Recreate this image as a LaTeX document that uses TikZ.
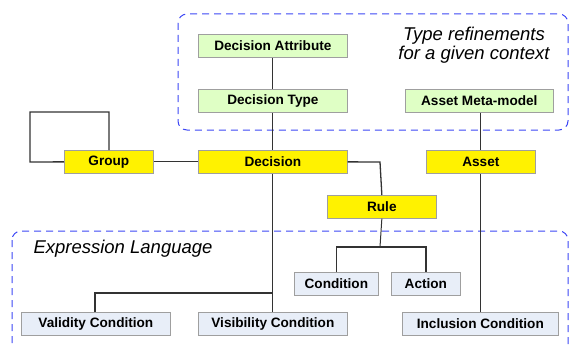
\documentclass[tikz,border=0pt]{standalone}
\usepackage{fontspec}
\setmainfont{Liberation Sans}
\begin{document}
\begin{tikzpicture}[x=1pt,y=-1pt,
  box/.style={draw=gray!75,line width=0.7pt,inner sep=0pt,anchor=north west,font=\fontsize{13.6}{15}\selectfont\bfseries},
  grn/.style={box,fill=green!14!white!90!yellow},
  ylw/.style={box,fill=yellow},
  blu/.style={box,fill={rgb,255:red,232;green,238;blue,248}},
  conn/.style={draw=black!80,line width=1pt},
  region/.style={draw={rgb,255:red,60;green,70;blue,245},line width=1pt,dash pattern=on 7pt off 5pt,rounded corners=9pt},
  lbl/.style={font=\fontsize{18.5}{21}\selectfont\itshape,align=center}]
\useasboundingbox (0,0) rectangle (570,345);
\begin{scope}
\clip (0,0) rectangle (570,345);
\draw[region] (178,14) rectangle (568,130);
\draw[region] (12,231) rectangle (568,360);
\end{scope}
\node[lbl] (tr) at (474,45) {Type refinements\\[-2pt]for a given context};
\node[lbl,anchor=west] (el) at (30,249) {Expression Language};

\node[grn,minimum width=149pt,minimum height=23pt] (da) at (198,34) {Decision Attribute};
\node[grn,minimum width=149pt,minimum height=23pt] (dt) at (198,89) {Decision Type};
\node[grn,minimum width=148pt,minimum height=23pt] (am) at (405,89) {Asset Meta-model};
\node[ylw,minimum width=89pt,minimum height=23pt] (gr) at (64,150) {Group};
\node[ylw,minimum width=149pt,minimum height=23pt] (de) at (198,150) {Decision};
\node[ylw,minimum width=109pt,minimum height=23pt] (as) at (426,150) {Asset};
\node[ylw,minimum width=109pt,minimum height=23pt] (ru) at (327,195) {Rule};
\node[blu,minimum width=84pt,minimum height=23pt] (co) at (294,272) {Condition};
\node[blu,minimum width=69pt,minimum height=23pt] (ac) at (391,272) {Action};
\node[blu,minimum width=149pt,minimum height=23pt] (va) at (21,312) {Validity Condition};
\node[blu,minimum width=149pt,minimum height=23pt] (vi) at (198,312) {Visibility Condition};
\node[blu,minimum width=156pt,minimum height=23pt] (in) at (402,312) {Inclusion Condition};

\coordinate (gl1) at (30,162);
\coordinate (gl2) at (30,112);
\coordinate (gl3) at (109,112);
\coordinate (dr) at (380,162);
\coordinate (rb) at (380,247);
\coordinate (vj) at (272,293);

\draw[conn,line width=1.3pt] (gr.west) -- (gl1) -- (gl2) -- (gl3) -- (gl3 |- gr.north);
\draw[conn] (gr.east) -- (de.west);
\draw[conn] (da.south) -- (dt.north);
\draw[conn] (dt.south) -- (de.north);
\draw[conn] (de.south) -- (vi.north);
\draw[conn,line width=1.3pt] (de.east) -- (dr) -- (ru.north);
\draw[conn] (ru.south) -- (rb);
\draw[conn,line width=1.3pt] (co.north) -- (co.north |- rb) -- (ac.north |- rb) -- (ac.north);
\draw[conn,line width=1.3pt] (va.north -| 95,0) -- (95,293) -- (vj);
\draw[conn] (am.south -| 480,0) -- (as.north -| 480,0);
\draw[conn] (as.south -| 480,0) -- (in.north -| 480,0);
\end{tikzpicture}
\end{document}
